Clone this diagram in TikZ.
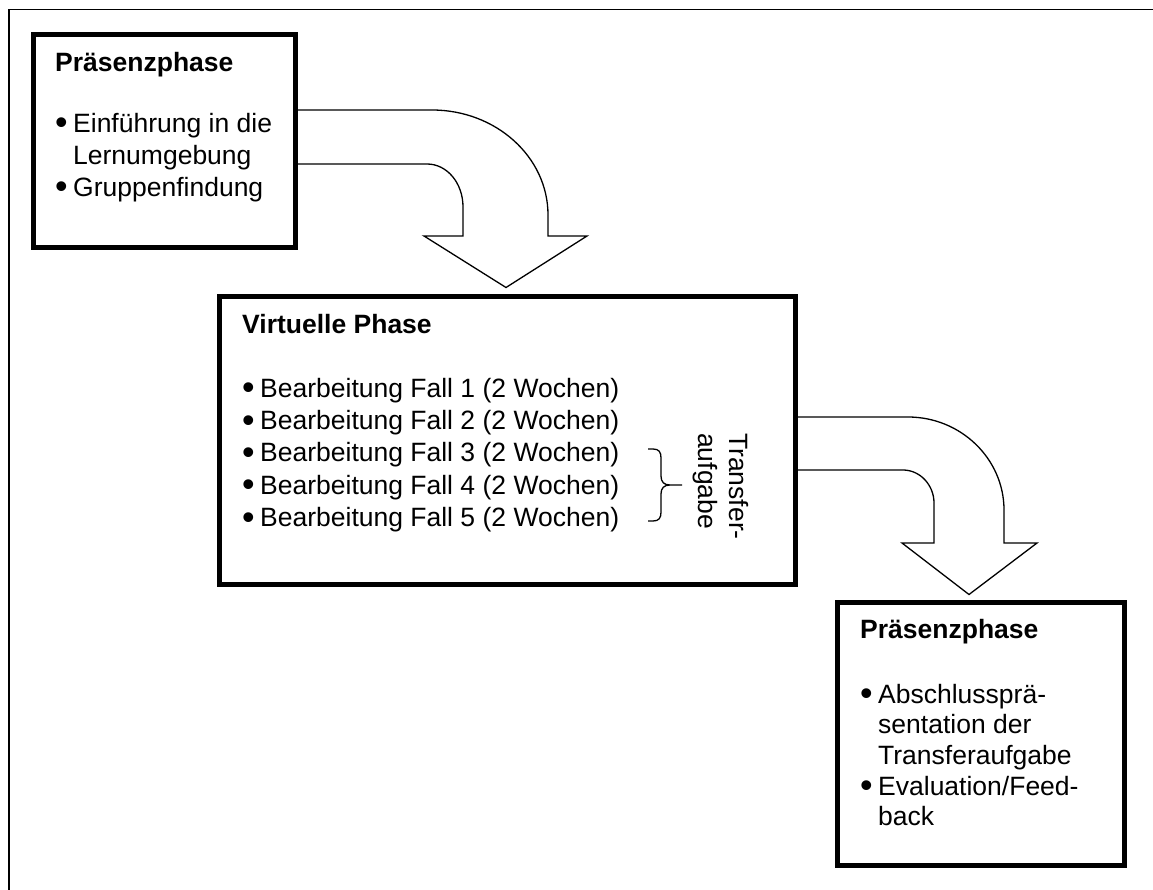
\documentclass[tikz,border=0pt]{standalone}
\usepackage{fontspec}
\usepackage{graphicx}
\setmainfont{Liberation Sans}
\usetikzlibrary{calc}
\newcommand{\setfs}[1]{\fontsize{26.5pt}{#1pt}\selectfont}
\newcommand{\itm}{\makebox[18pt][l]{\raisebox{-2.6pt}{\scalebox{1.35}{\textbullet}}}}
\newcommand{\ind}{\hspace*{18pt}}
\begin{document}
\begin{tikzpicture}[x=1pt,y=-1pt,
  phasebox/.style={draw,line width=5pt,rectangle,inner sep=0pt},
  boxtext/.style={anchor=north west,inner sep=0pt,align=left},
  bendarrow/.style={draw,line width=1.3pt,line join=miter},
  frameline/.style={line width=1.8pt},
  bracestyle/.style={line width=1.3pt}]
\useasboundingbox (0,0) rectangle (1153,890);
\draw[frameline] (9,890) -- (9,9.5) -- (1153,9.5);

% boxes
\node[phasebox,minimum width=262pt,minimum height=213.5pt] (b1) at (164.5,141.25) {};
\node[phasebox,minimum width=576pt,minimum height=287pt] (b2) at (507,440.5) {};
\node[phasebox,minimum width=287pt,minimum height=263pt] (b3) at (980.5,733.5) {};

% texts
\node[boxtext,font=\setfs{32}] (t1) at (55,48.6)
  {\strut\textbf{Präsenzphase}\\[29pt]\itm Einführung in die\\\ind Lernumgebung\\\itm Gruppenfindung};
\node[boxtext,font=\setfs{32.3}] (t2) at (242,310.7)
  {\strut\textbf{Virtuelle Phase}\\[31.4pt]\itm Bearbeitung Fall 1 (2 Wochen)\\\itm Bearbeitung Fall 2 (2 Wochen)\\\itm Bearbeitung Fall 3 (2 Wochen)\\\itm Bearbeitung Fall 4 (2 Wochen)\\\itm Bearbeitung Fall 5 (2 Wochen)};
\node[boxtext,font=\setfs{30.7}] (t3) at (860,616.5)
  {\strut\textbf{Präsenzphase}\\[34.3pt]\itm Abschlussprä-\\\ind sentation der\\\ind Transferaufgabe\\\itm Evaluation/Feed-\\\ind back};

% brace and rotated label
\draw[bracestyle] (648,449) -- (653,449) .. controls (659,449) and (661,452) .. (661,458)
  -- (661,476) .. controls (661,482) and (664,485) .. (670,485)
  .. controls (664,485) and (661,488) .. (661,494) -- (661,512)
  .. controls (661,518) and (659,521) .. (653,521) -- (648,521)
  (670,485) -- (682,485);
\node[boxtext,rotate=-90,font=\setfs{31.8}] (tr) at (752.3,433) {\strut Transfer-\\aufgabe};

% bent block arrows
\coordinate (tip1) at ($(b2.north)+(-1,-7)$);
\coordinate (tip2) at ($(b3.north)+(-11.5,-5)$);
\draw[bendarrow] (b1.east |- 0,110) -- (432,110)
  .. controls (496,110) and (548,157) .. (548,215) -- (548,236) -- (587,236)
  -- (tip1) -- (424,236) -- (463,236) -- (463,207)
  .. controls (463,183) and (447,164) .. (427,164) -- (b1.east |- 0,164);
\draw[bendarrow] (b2.east |- 0,417) -- (908,417)
  .. controls (961,417) and (1004,459) .. (1004,510) -- (1004,543) -- (1037,543)
  -- (tip2) -- (902,543) -- (934,543) -- (934,503)
  .. controls (934,485) and (920,470) .. (903,470) -- (b2.east |- 0,470);
\end{tikzpicture}
\end{document}
